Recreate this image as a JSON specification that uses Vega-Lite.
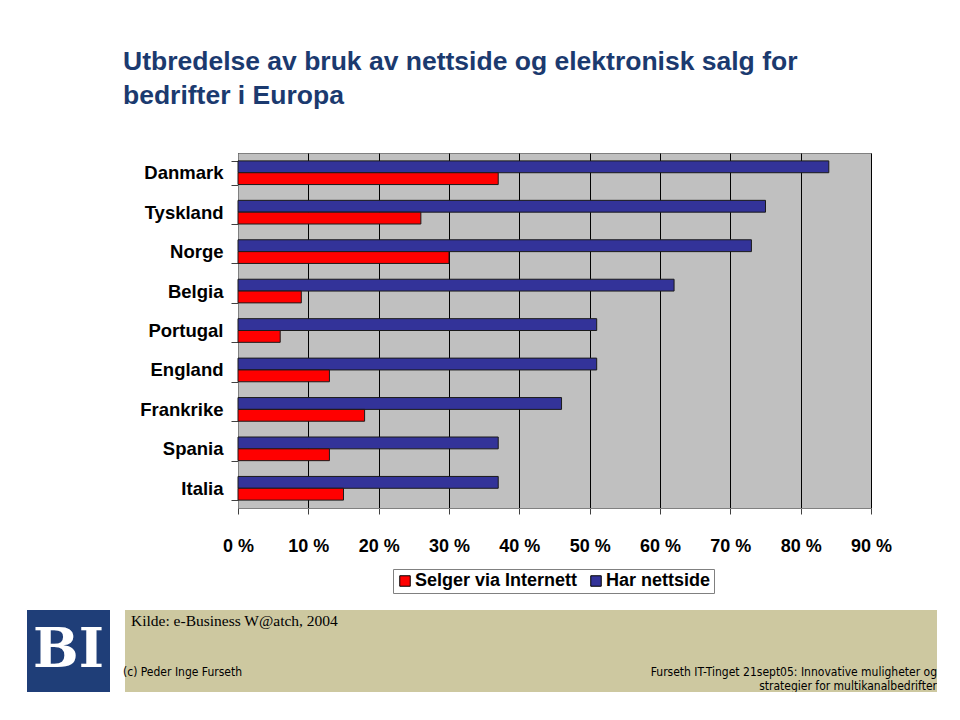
{
  "$schema": "https://vega.github.io/schema/vega-lite/v6.json",
  "background": "white",
  "padding": {"left": 27, "top": 48, "right": 0, "bottom": 0},
  "config": {
    "font": "Liberation Sans"
  },
  "spacing": 54,
  "vconcat": [
    {
      "spacing": 0,
      "hconcat": [
        {
          "width": 1,
          "height": 355,
          "view": {"fill": null, "stroke": null},
          "data": {"values": []},
          "mark": {"type": "point", "opacity": 0},
          "encoding": {}
        },
        {
          "width": 633,
          "height": 355,
          "view": {"fill": "#C0C0C0", "stroke": "#808080", "strokeWidth": 1},
          "title": {
            "text": ["Utbredelse av bruk av nettside og elektronisk salg for", "bedrifter i Europa"],
            "font": "Liberation Sans",
            "fontSize": 26.5,
            "fontWeight": "bold",
            "color": "#1B3A6F",
            "anchor": "start",
            "frame": "group",
            "dx": -115,
            "offset": 35,
            "lineHeight": 34
          },
          "data": {
            "values": [
              {"land": "Danmark", "serie": "Har nettside", "verdi": 84},
              {"land": "Danmark", "serie": "Selger via Internett", "verdi": 37},
              {"land": "Tyskland", "serie": "Har nettside", "verdi": 75},
              {"land": "Tyskland", "serie": "Selger via Internett", "verdi": 26},
              {"land": "Norge", "serie": "Har nettside", "verdi": 73},
              {"land": "Norge", "serie": "Selger via Internett", "verdi": 30},
              {"land": "Belgia", "serie": "Har nettside", "verdi": 62},
              {"land": "Belgia", "serie": "Selger via Internett", "verdi": 9},
              {"land": "Portugal", "serie": "Har nettside", "verdi": 51},
              {"land": "Portugal", "serie": "Selger via Internett", "verdi": 6},
              {"land": "England", "serie": "Har nettside", "verdi": 51},
              {"land": "England", "serie": "Selger via Internett", "verdi": 13},
              {"land": "Frankrike", "serie": "Har nettside", "verdi": 46},
              {"land": "Frankrike", "serie": "Selger via Internett", "verdi": 18},
              {"land": "Spania", "serie": "Har nettside", "verdi": 37},
              {"land": "Spania", "serie": "Selger via Internett", "verdi": 13},
              {"land": "Italia", "serie": "Har nettside", "verdi": 37},
              {"land": "Italia", "serie": "Selger via Internett", "verdi": 15}
            ]
          },
          "mark": {"type": "bar", "stroke": "#1a1a1a", "strokeWidth": 1},
          "encoding": {
            "y": {
              "field": "land",
              "type": "nominal",
              "sort": ["Danmark", "Tyskland", "Norge", "Belgia", "Portugal", "England", "Frankrike", "Spania", "Italia"],
              "scale": {"paddingInner": 0.4, "paddingOuter": 0.2},
              "axis": {
                "title": null,
                "tickBand": "extent",
                "tickSize": 7,
                "tickColor": "#404040",
                "domainColor": "#808080",
                "labelFontSize": 18.5,
                "labelFontWeight": "bold",
                "labelColor": "#000000",
                "labelFont": "Liberation Sans",
                "labelPadding": 8,
                "minExtent": 209,
                "grid": false
              }
            },
            "yOffset": {
              "field": "serie",
              "type": "nominal",
              "sort": ["Har nettside", "Selger via Internett"],
              "scale": {"paddingInner": 0, "paddingOuter": 0}
            },
            "x": {
              "field": "verdi",
              "type": "quantitative",
              "scale": {"domain": [0, 90], "nice": false},
              "axis": {
                "title": null,
                "values": [0, 10, 20, 30, 40, 50, 60, 70, 80, 90],
                "labelExpr": "datum.value + ' %'",
                "labelFlush": false,
                "grid": true,
                "gridColor": "#000000",
                "gridOpacity": 1,
                "gridWidth": 1,
                "tickSize": 6,
                "tickColor": "#404040",
                "domainColor": "#808080",
                "labelFontSize": 18,
                "labelFontWeight": "bold",
                "labelColor": "#000000",
                "labelFont": "Liberation Sans",
                "labelPadding": 23
              }
            },
            "color": {
              "field": "serie",
              "type": "nominal",
              "scale": {"domain": ["Selger via Internett", "Har nettside"], "range": ["#FF0000", "#333399"]},
              "legend": {
                "title": null,
                "orient": "none",
                "direction": "horizontal",
                "legendX": 366,
                "legendY": 416,
                "fillColor": "#FFFFFF",
                "strokeColor": "#808080",
                "padding": 3,
                "symbolType": "square",
                "symbolSize": 110,
                "symbolStrokeColor": "#000000",
                "symbolStrokeWidth": 1,
                "labelFontSize": 18,
                "labelFontWeight": "bold",
                "labelColor": "#000000",
                "labelFont": "Liberation Sans",
                "labelLimit": 300,
                "columnPadding": 9,
                "labelOffset": 1
              }
            }
          }
        }
      ]
    },
    {
      "spacing": 13,
      "hconcat": [
        {
          "width": 83,
          "height": 82,
          "view": {"fill": "#1F3E78", "stroke": null},
          "data": {"values": [{"logo": "BI"}]},
          "mark": {"type": "text", "font": "DejaVu Serif", "fontWeight": "bold", "fontSize": 54, "color": "#FFFFFF", "baseline": "middle", "align": "center"},
          "encoding": {"text": {"field": "logo", "type": "nominal"}}
        },
        {
          "width": 812,
          "height": 82,
          "view": {"fill": "#CDC8A0", "stroke": null},
          "layer": [
            {
              "data": {"values": [{"tekst": "Kilde: e-Business W@atch, 2004"}]},
              "mark": {"type": "text", "font": "Liberation Serif", "fontSize": 15.5, "align": "left", "baseline": "top", "dx": 6, "dy": 4, "color": "#000000"},
              "encoding": {"text": {"field": "tekst", "type": "nominal"}, "x": {"value": 0}, "y": {"value": 0}}
            },
            {
              "data": {"values": [{"tekst": "(c) Peder Inge Furseth"}]},
              "mark": {"type": "text", "font": "Liberation Sans Narrow, DejaVu Sans Condensed", "fontSize": 12, "align": "left", "baseline": "alphabetic", "dx": -2, "dy": -16, "color": "#000000"},
              "encoding": {"text": {"field": "tekst", "type": "nominal"}, "x": {"value": 0}, "y": {"value": "height"}}
            },
            {
              "data": {"values": [{"tekst": "Furseth IT-Tinget 21sept05: Innovative muligheter og|strategier for multikanalbedrifter"}]},
              "mark": {"type": "text", "font": "Liberation Sans Narrow, DejaVu Sans Condensed", "fontSize": 12, "align": "right", "baseline": "alphabetic", "lineBreak": "|", "lineHeight": 14, "dx": 0, "dy": -16, "color": "#000000"},
              "encoding": {"text": {"field": "tekst", "type": "nominal"}, "x": {"value": "width"}, "y": {"value": "height"}}
            }
          ]
        }
      ]
    }
  ]
}
